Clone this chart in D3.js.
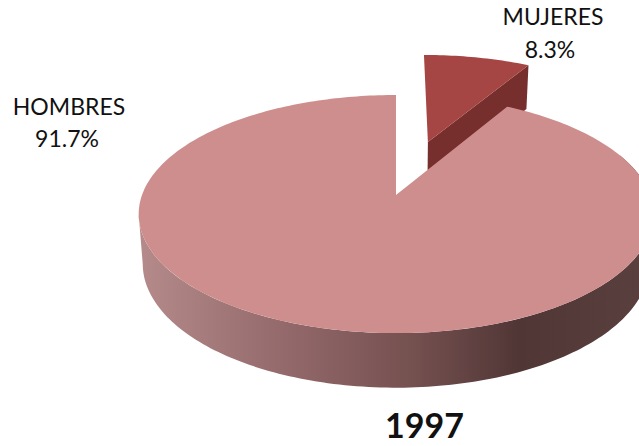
<!DOCTYPE html>
<html><head><meta charset="utf-8">
<script src="https://cdn.jsdelivr.net/npm/d3@7"></script>
<style>html,body{margin:0;padding:0;background:#fff;overflow:hidden}svg{display:block}text{font-family:Lato,sans-serif;fill:#111}</style>
</head><body>
<svg id="c" width="639" height="446"></svg>
<script>
const categories = ["MUJERES", "HOMBRES"];
const shares = [8.3, 91.7];
const shareLabels = ["8.3%", "91.7%"];
const chartTitle = "1997";

const svg = d3.select("#c");
const pie = d3.pie().sort(null).startAngle(0).endAngle(2 * Math.PI);
const slices = pie(shares);

const K = 0.16;
const topPlane = {cx: 396, cy: 195, a: 116, b: 254};
const basePlane = {cx: 396, cy: 244, a: 120.7, b: 250};
const project = (pl, u, v) => {
  const w = 1 + K * v;
  return [pl.cx + pl.b * u / w, pl.cy - pl.a * v / w];
};
const rim = (pl, a0, a1, off) => {
  const n = Math.max(2, Math.ceil((a1 - a0) / 0.02));
  return d3.range(n + 1).map(i => {
    const t = a0 + (a1 - a0) * i / n;
    return project(pl, off[0] + Math.sin(t), off[1] + Math.cos(t));
  });
};
const line = d3.line();
const mid = d => (d.startAngle + d.endAngle) / 2;

const defs = svg.append("defs");
const grad = defs.append("linearGradient").attr("id", "wall")
  .attr("gradientUnits", "userSpaceOnUse").attr("x1", 140).attr("x2", 639).attr("y1", 0).attr("y2", 0);
[[0, "#b58a8a"], [0.3, "#93686a"], [0.55, "#74504f"], [0.76, "#513636"], [1, "#5a3f3f"]]
  .forEach(s => grad.append("stop").attr("offset", s[0]).attr("stop-color", s[1]));

const big = slices[1], small = slices[0];
const zero = [0, 0];

const wallStart = 1.2, wallEnd = 4.55;
const wallTop = rim(topPlane, wallStart, wallEnd, zero);
const wallBase = rim(basePlane, wallStart, wallEnd, zero).reverse();
svg.append("path").attr("d", line(wallTop.concat(wallBase)) + "Z").attr("fill", "url(#wall)");

// exploded small slice
const explode = 0.5;
const off = [explode * Math.sin(mid(small)), explode * Math.cos(mid(small))];
const apexT = project(topPlane, off[0], off[1]);
const apexB = project(basePlane, off[0], off[1]);
const endT = project(topPlane, off[0] + Math.sin(small.endAngle), off[1] + Math.cos(small.endAngle));
const endB = project(basePlane, off[0] + Math.sin(small.endAngle), off[1] + Math.cos(small.endAngle));
const smallG = svg.append("g").attr("transform", "translate(1.5,-1)");
smallG.append("path").attr("d", line([apexT, endT, endB, apexB]) + "Z").attr("fill", "#772f2d");
smallG.append("path").attr("d", line([apexT].concat(rim(topPlane, small.startAngle, small.endAngle, off))) + "Z")
  .attr("fill", "#a64644");

svg.append("path").attr("d", line([project(topPlane, 0, 0)].concat(rim(topPlane, big.startAngle, big.endAngle, zero))) + "Z")
  .attr("fill", "#cf8e8e");

const labelPos = [[553, 25, 58, 550], [69, 115, 147, 67]];
categories.forEach((c, i) => {
  svg.append("text").attr("x", labelPos[i][0]).attr("y", labelPos[i][1]).attr("text-anchor", "middle").attr("font-size", 23).text(c);
  svg.append("text").attr("x", labelPos[i][3]).attr("y", labelPos[i][2]).attr("text-anchor", "middle").attr("font-size", 23).text(shareLabels[i]);
});
svg.append("text").attr("x", 424.5).attr("y", 438).attr("text-anchor", "middle").attr("font-size", 34).attr("font-weight", 700).text(chartTitle);
</script>
</body></html>
